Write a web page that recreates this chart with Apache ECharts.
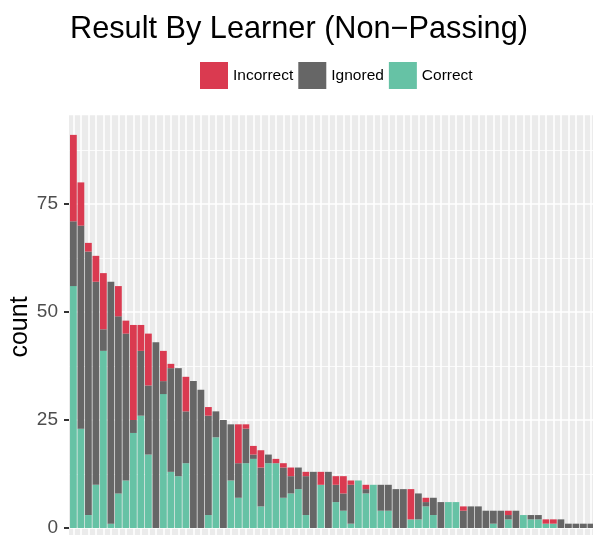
<!DOCTYPE html>
<html>
<head>
<meta charset="utf-8">
<script src="https://cdn.jsdelivr.net/npm/echarts@6/dist/echarts.min.js"></script>
<style>
html, body { margin: 0; padding: 0; background: #fff; }
#chart { width: 593px; height: 535px; }
</style>
</head>
<body>
<div id="chart"></div>
<script>
// answers per learner, sorted by total (one entry per learner)
const correct = [56, 23, 3, 10, 41, 1, 8, 11, 22, 26, 17, 0, 31, 13, 12, 15, 0, 0, 3, 21,
	0, 11, 7, 15, 16, 5, 15, 15, 7, 8, 9, 3, 0, 10, 0, 6, 4, 1, 11, 8,
	10, 4, 4, 0, 0, 2, 2, 5, 3, 0, 6, 6, 0, 0, 0, 0, 1, 0, 2, 0,
	3, 2, 2, 1, 1, 0, 0, 0, 0, 0]
const ignored = [15, 47, 61, 47, 5, 56, 41, 34, 3, 15, 16, 43, 3, 24, 25, 12, 34, 32, 23, 6,
	25, 13, 8, 8, 1, 9, 2, 0, 7, 4, 5, 9, 13, 0, 13, 4, 4, 9, 0, 1,
	0, 6, 6, 9, 9, 0, 6, 1, 4, 6, 0, 0, 4, 5, 5, 4, 3, 4, 1, 4,
	0, 1, 1, 0, 0, 2, 1, 1, 1, 1]
const incorrect = [20, 10, 2, 6, 13, 0, 7, 3, 22, 6, 12, 0, 7, 1, 0, 8, 0, 0, 2, 0,
	0, 0, 9, 1, 2, 4, 0, 1, 1, 2, 0, 1, 0, 3, 0, 2, 4, 1, 0, 1,
	0, 0, 0, 0, 0, 7, 0, 1, 0, 0, 0, 0, 1, 0, 0, 0, 0, 0, 1, 0,
	0, 0, 0, 1, 1, 0, 0, 0, 0, 0]
const learners = correct.map((_, i) => 'L' + (i + 1))
const legendOrder = ['Incorrect', 'Ignored', 'Correct']

const font = 'Liberation Sans, Helvetica, Arial, sans-serif'
const colors = {
	Correct: '#66C2A5',
	Ignored: '#666666',
	Incorrect: '#DA3A50'
}

function barSeries(name, arr) {
	return {
		name: name,
		type: 'bar',
		stack: 'total',
		barWidth: '90%',
		itemStyle: { color: colors[name] },
		data: arr
	}
}

const hidden = {
	axisLine: { show: false },
	axisTick: { show: false },
	axisLabel: { show: false },
	splitLine: { show: false }
}

const chart = echarts.init(document.getElementById('chart'))
chart.setOption({
	animation: false,
	textStyle: { fontFamily: font },
	title: {
		text: 'Result By Learner (Non\u2212Passing)',
		left: 65,
		top: 9,
		textStyle: { fontFamily: font, fontSize: 30.7, fontWeight: 'normal', color: '#000' }
	},
	legend: {
		data: legendOrder,
		left: 195,
		top: 57,
		itemWidth: 28,
		itemHeight: 27,
		itemGap: 5,
		icon: 'rect',
		textStyle: { fontFamily: font, fontSize: 15.5, color: '#000' }
	},
	// panel background
	graphic: [{
		type: 'rect',
		z: -10,
		silent: true,
		shape: { x: 69, y: 115.2, width: 530, height: 430 },
		style: { fill: '#EBEBEB' }
	}],
	grid: [
		// bars + horizontal grid lines
		{ left: 69.65, top: 96, width: 525, height: 432, outerBoundsMode: 'none' },
		// vertical grid lines through the bar centres
		{ left: 65.9, top: 96, width: 532.5, height: 460, outerBoundsMode: 'none' },
		// y axis: tick marks (as split lines of a 5px wide grid) and labels
		{ left: 64, top: 204, width: 5, height: 324, outerBoundsMode: 'none' }
	],
	xAxis: [
		Object.assign({ type: 'category', gridIndex: 0, data: learners }, hidden),
		{
			type: 'value',
			gridIndex: 1,
			min: -1,
			max: 70,
			interval: 1,
			axisLine: { show: false },
			axisTick: { show: false },
			axisLabel: { show: false },
			splitLine: { lineStyle: { color: '#fff', width: 1.6 } }
		},
		Object.assign({ type: 'value', gridIndex: 2, min: 0, max: 1 }, hidden)
	],
	yAxis: [{
		type: 'value',
		gridIndex: 0,
		min: 0,
		max: 100,
		interval: 25,
		axisLine: { show: false },
		axisTick: { show: false },
		axisLabel: { show: false },
		splitLine: { lineStyle: { color: '#fff', width: 1.6 } },
		minorTick: { show: false, splitNumber: 2 },
		minorSplitLine: { show: true, lineStyle: { color: '#fff', width: 0.8 } }
	},
	Object.assign({ type: 'value', gridIndex: 1, min: 0, max: 1 }, hidden),
	{
		type: 'value',
		gridIndex: 2,
		z: 5,
		min: 0,
		max: 75,
		interval: 25,
		name: 'count',
		nameLocation: 'middle',
		nameGap: 27,
		nameTextStyle: { fontFamily: font, fontSize: 25, color: '#000', padding: [0, 0, 0, 78] },
		axisLine: { show: false },
		axisTick: { show: false },
		axisLabel: { show: true, margin: 6, fontSize: 19, color: '#4D4D4D', fontFamily: font },
		splitLine: { show: true, lineStyle: { color: '#333333', width: 2 } }
	}],
	series: [
		barSeries('Correct', correct),
		barSeries('Ignored', ignored),
		barSeries('Incorrect', incorrect)
	]
})
</script>
</body>
</html>
